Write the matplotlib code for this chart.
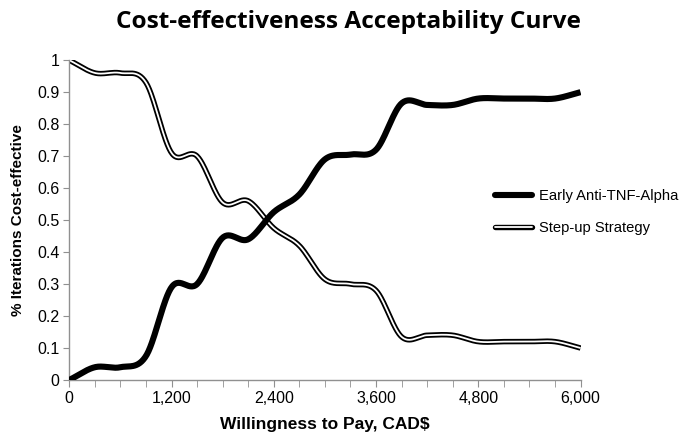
import numpy as np
import matplotlib
matplotlib.use("Agg")
import matplotlib.pyplot as plt
from matplotlib.lines import Line2D
import matplotlib.patheffects as pe
from matplotlib.ticker import MultipleLocator, FuncFormatter

wtp = [0, 300, 600, 900, 1200, 1500, 1800, 2100, 2400, 2700, 3000,
       3300, 3600, 3900, 4200, 4500, 4800, 5100, 5400, 5700, 6000]
early = [0.0, 0.04, 0.04, 0.075, 0.29, 0.30, 0.445, 0.44, 0.525, 0.58, 0.69,
         0.705, 0.72, 0.865, 0.86, 0.86, 0.88, 0.88, 0.88, 0.88, 0.90]
stepup = [1.0, 0.96, 0.96, 0.93, 0.71, 0.70, 0.555, 0.56, 0.475, 0.42, 0.315,
          0.30, 0.28, 0.135, 0.14, 0.14, 0.12, 0.12, 0.12, 0.12, 0.10]

title = "Cost-effectiveness Acceptability Curve"
xlabel = "Willingness to Pay, CAD$"
ylabel = "% Iterations Cost-effective"
names = ["Early Anti-TNF-Alpha", "Step-up Strategy"]


def smooth(x, y, n=30):
    # Catmull-Rom rendering (like a spreadsheet "smoothed line")
    x = np.asarray(x, float); y = np.asarray(y, float)
    px = np.concatenate([[2 * x[0] - x[1]], x, [2 * x[-1] - x[-2]]])
    py = np.concatenate([[2 * y[0] - y[1]], y, [2 * y[-1] - y[-2]]])
    xs, ys = [], []
    t = np.linspace(0, 1, n, endpoint=False)
    for i in range(1, len(px) - 2):
        for arr, out in ((px, xs), (py, ys)):
            p0, p1, p2, p3 = arr[i - 1], arr[i], arr[i + 1], arr[i + 2]
            out.append(0.5 * ((2 * p1) + (-p0 + p2) * t
                              + (2 * p0 - 5 * p1 + 4 * p2 - p3) * t ** 2
                              + (-p0 + 3 * p1 - 3 * p2 + p3) * t ** 3))
    xs = np.concatenate(xs + [[x[-1]]]); ys = np.concatenate(ys + [[y[-1]]])
    return xs, ys


plt.rcParams['font.family'] = ['Liberation Sans', 'DejaVu Sans']
fig = plt.figure(figsize=(6.79, 4.36), dpi=100)
ax = fig.add_axes([0.102, 0.1284, 0.753, 0.7336])

ex, ey = smooth(wtp, early)
sx, sy = smooth(wtp, stepup)
ax.plot(ex, ey, color='black', lw=4.4, solid_capstyle='butt', zorder=3)
ax.plot(sx, sy, color='black', lw=3.9, solid_capstyle='butt', zorder=2)
ax.plot(sx, sy, color='white', lw=1.3, solid_capstyle='butt', zorder=2.5)

ax.set_xlim(0, 6000)
ax.set_ylim(0, 1)
ax.xaxis.set_major_locator(MultipleLocator(1200))
ax.xaxis.set_minor_locator(MultipleLocator(300))
ax.yaxis.set_major_locator(MultipleLocator(0.1))
ax.xaxis.set_major_formatter(FuncFormatter(lambda v, p: f"{int(round(v)):,}"))
ax.yaxis.set_major_formatter(FuncFormatter(
    lambda v, p: str(int(round(v))) if abs(v - round(v)) < 1e-9 else f"{v:.1f}"))

for s in ('top', 'right'):
    ax.spines[s].set_visible(False)
for s in ('left', 'bottom'):
    ax.spines[s].set_color('#909090')
    ax.spines[s].set_linewidth(1.0)
ax.tick_params(axis='both', which='both', color='#909090', direction='out',
               labelsize=11.5, labelcolor='black')
ax.tick_params(axis='x', which='major', length=5, pad=3)
ax.tick_params(axis='x', which='minor', length=5)
ax.tick_params(axis='y', which='major', length=4, pad=3)

ax.set_xlabel(xlabel, fontsize=12.5, fontweight='bold', labelpad=8)
ax.set_ylabel(ylabel, fontsize=11, fontweight='bold', labelpad=9)
fig.text(348.5 / 679, 0.95, title, ha='center', va='center', fontsize=17.6,
         fontweight='bold', family=['Open Sans', 'DejaVu Sans'])

h1 = Line2D([], [], color='black', lw=4.4, solid_capstyle='round')
h2 = Line2D([], [], color='white', lw=1.3, solid_capstyle='round',
            path_effects=[pe.Stroke(linewidth=3.9, foreground='black'), pe.Normal()])
ax.legend([h1, h2], names, loc='center left',
          bbox_to_anchor=(495 / 679, 1 - 212 / 436), bbox_transform=fig.transFigure,
          borderaxespad=0, borderpad=0,
          frameon=False, fontsize=10.6, handlelength=2.5, handletextpad=0.5,
          labelspacing=1.2)

fig.savefig("out.png", dpi=100)
